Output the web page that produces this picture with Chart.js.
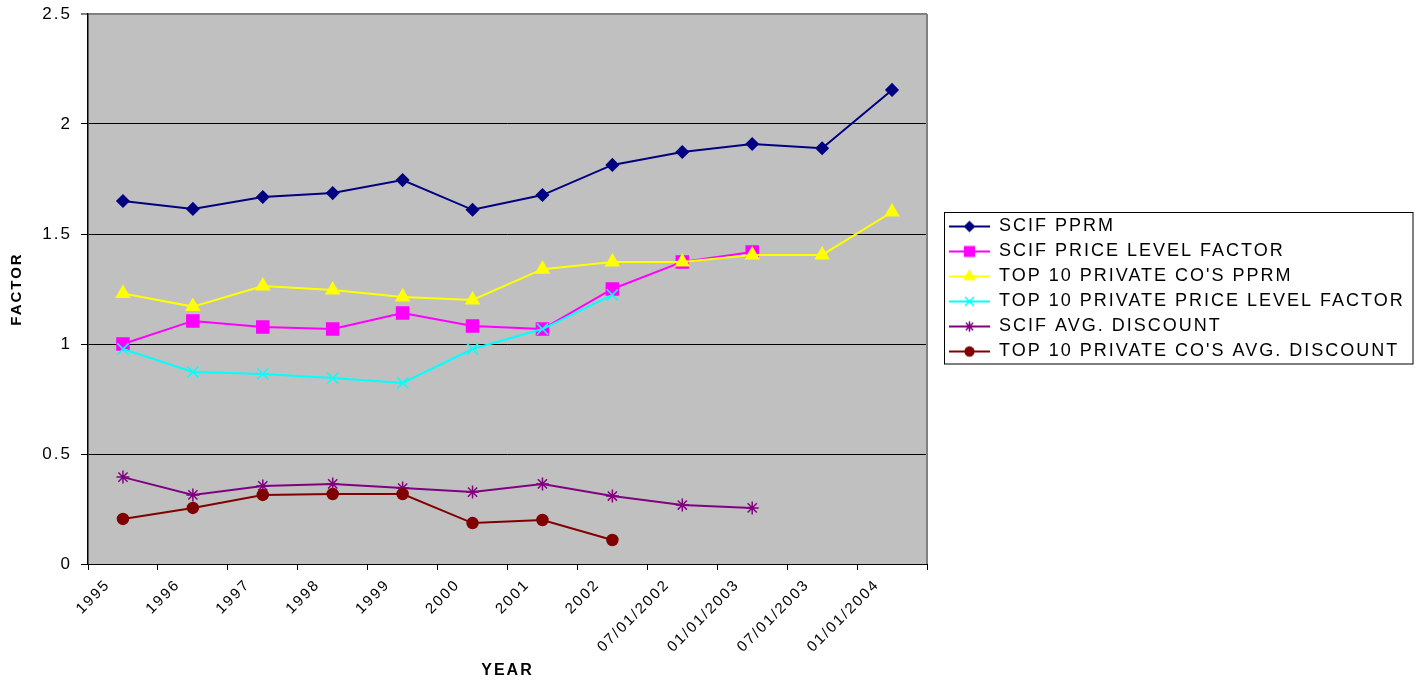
<!DOCTYPE html>
<html lang="en">
<head>
  <meta charset="UTF-8" />
  <title>SCIF vs Top 10 Private Factors</title>
  <script src="https://cdn.jsdelivr.net/npm/chart.js@4.4.1/dist/chart.umd.min.js"></script>
  <style>
    body { margin: 0; background: #fff; }
    #wrap { width: 1419px; height: 683px; }
  </style>
</head>
<body>
<div id="wrap"><canvas id="chart" width="1419" height="683"></canvas></div>
<script>
  // values
  const categories = ['1995', '1996', '1997', '1998', '1999', '2000', '2001', '2002',
    '07/01/2002', '01/01/2003', '07/01/2003', '01/01/2004'];
  const scifPprm = [1.65, 1.614, 1.668, 1.686, 1.745, 1.61, 1.677, 1.814, 1.873, 1.909, 1.89, 2.155];
  const scifPriceLevel = [1.0, 1.105, 1.077, 1.068, 1.141, 1.082, 1.068, 1.25, 1.373, 1.418, null, null];
  const top10Pprm = [1.23, 1.17, 1.264, 1.245, 1.214, 1.2, 1.34, 1.373, 1.373, 1.405, 1.405, 1.6];
  const top10PriceLevel = [0.977, 0.873, 0.864, 0.845, 0.823, 0.977, 1.068, 1.223, null, null, null, null];
  const scifDiscount = [0.395, 0.314, 0.355, 0.364, 0.345, 0.327, 0.364, 0.309, 0.268, 0.255, null, null];
  const top10Discount = [0.205, 0.255, 0.314, 0.318, 0.318, 0.186, 0.2, 0.109, null, null, null, null];
  const yTicks = [0, 0.5, 1, 1.5, 2, 2.5];

  const FONT = "'Liberation Sans', Arial, sans-serif";
  const SPACING = '2px';

  const series = [
    { label: 'SCIF PPRM', data: scifPprm, color: '#000080', style: 'rectRot', r: 6 },
    { label: 'SCIF PRICE LEVEL FACTOR', data: scifPriceLevel, color: '#FF00FF', style: 'rect', r: 8.5 },
    { label: "TOP 10 PRIVATE CO'S PPRM", data: top10Pprm, color: '#FFFF00', style: 'triangle', r: 7.5 },
    { label: 'TOP 10 PRIVATE PRICE LEVEL FACTOR', data: top10PriceLevel, color: '#00FFFF', style: 'crossRot', r: 8 },
    { label: 'SCIF AVG. DISCOUNT', data: scifDiscount, color: '#800080', style: 'star', r: 6.5 },
    { label: "TOP 10 PRIVATE CO'S AVG. DISCOUNT", data: top10Discount, color: '#800000', style: 'circle', r: 5.5 }
  ];

  // small line + marker picture for the legend
  function legendIcon(s) {
    const c = document.createElement('canvas');
    c.width = 56; c.height = 18;
    const g = c.getContext('2d');
    g.strokeStyle = s.color; g.lineWidth = 2;
    g.beginPath(); g.moveTo(15, 9); g.lineTo(56, 9); g.stroke();
    g.fillStyle = s.color; g.lineWidth = 1.5;
    Chart.helpers.drawPoint(g, { pointStyle: s.style, radius: s.r * 0.8, borderWidth: 1.5, rotation: 0 }, 35.5, 9);
    return c;
  }
  const icons = series.map(legendIcon);

  const datasets = series.map((s, i) => ({
    label: s.label,
    data: s.data,
    borderColor: s.color,
    backgroundColor: s.color,
    borderWidth: 2,
    pointStyle: s.style,
    pointRadius: s.r,
    pointBorderWidth: 1.5,
    pointBackgroundColor: s.color,
    pointBorderColor: s.color,
    tension: 0,
    spanGaps: false,
    order: series.length - i
  }));

  const plotBg = {
    id: 'plotBg',
    beforeLayout(chart) { chart.ctx.letterSpacing = SPACING; },
    beforeDraw(chart) {
      const { ctx, chartArea: a } = chart;
      ctx.letterSpacing = SPACING;
      ctx.save();
      ctx.fillStyle = '#C0C0C0';
      ctx.fillRect(a.left, a.top, a.right - a.left, a.bottom - a.top);
      ctx.restore();
    },
    beforeDatasetsDraw(chart) {
      const { ctx, chartArea: a } = chart;
      ctx.save();
      ctx.strokeStyle = '#808080';
      ctx.lineWidth = 2;
      ctx.beginPath();
      ctx.moveTo(a.right, a.top);
      ctx.lineTo(a.right, a.bottom);
      ctx.stroke();
      ctx.restore();
    },
    afterInit(chart) {
      const lg = chart.legend;
      const fit = lg.fit;
      lg.fit = function () { fit.call(this); if (this.options.display) this.width = 492; };
    },
    afterDraw(chart) {
      const lg = chart.legend;
      const hb = lg.legendHitBoxes;
      if (!hb || !hb.length) return;
      const ctx = chart.ctx;
      const last = hb[hb.length - 1];
      const top = hb[0].top - 5.5;
      const bottom = last.top + last.height + 3;
      ctx.save();
      ctx.strokeStyle = '#000';
      ctx.lineWidth = 1;
      ctx.strokeRect(lg.left + 17.5, top + 0.5, lg.right - 6 - (lg.left + 17.5), bottom - top);
      ctx.restore();
    }
  };

  new Chart(document.getElementById('chart'), {
    type: 'line',
    data: { labels: categories, datasets: datasets },
    plugins: [plotBg],
    options: {
      responsive: false,
      animation: false,
      layout: { padding: { top: 14, left: 0, right: 0, bottom: 0 } },
      plugins: {
        tooltip: { enabled: false },
        legend: {
          position: 'right',
          fullSize: false,
          labels: {
            usePointStyle: true,
            pointStyleWidth: 56,
            padding: 7,
            color: '#000',
            font: { family: FONT, size: 18 },
            generateLabels(chart) {
              const items = Chart.defaults.plugins.legend.labels.generateLabels(chart);
              items.sort((a, b) => a.datasetIndex - b.datasetIndex);
              items.forEach(it => { it.pointStyle = icons[it.datasetIndex]; });
              return items;
            }
          }
        }
      },
      scales: {
        x: {
          offset: true,
          grid: { offset: true, drawOnChartArea: false, drawTicks: true, tickLength: 6, color: '#000' },
          border: { color: '#000', width: 1 },
          ticks: {
            autoSkip: false, minRotation: 45, maxRotation: 45,
            padding: 6, labelOffset: -15, color: '#000',
            font: { family: FONT, size: 15 }
          },
          title: {
            display: true, text: 'YEAR', color: '#000',
            font: { family: FONT, size: 16, weight: 'bold' },
            padding: { top: 0, bottom: 3 }
          },
          afterFit(scale) { scale.height = 119; }
        },
        y: {
          min: 0, max: 2.5,
          afterBuildTicks(scale) { scale.ticks = yTicks.map(v => ({ value: v })); },
          grid: {
            color: ctx => (ctx.tick && ctx.tick.value === 2.5 ? '#808080' : '#000'),
            lineWidth: ctx => (ctx.tick && ctx.tick.value === 2.5 ? 2 : 1),
            tickLength: 7
          },
          border: { color: '#000', width: 1.5 },
          ticks: {
            padding: 9, color: '#000', font: { family: FONT, size: 17 },
            callback: v => String(v)
          },
          title: {
            display: true, text: 'FACTOR', color: '#000',
            font: { family: FONT, size: 15, weight: 'bold' },
            padding: { top: 8, bottom: 0 }
          },
          afterFit(scale) { scale.width = 88; scale.paddingTop = 4; }
        }
      }
    }
  });
</script>
</body>
</html>
